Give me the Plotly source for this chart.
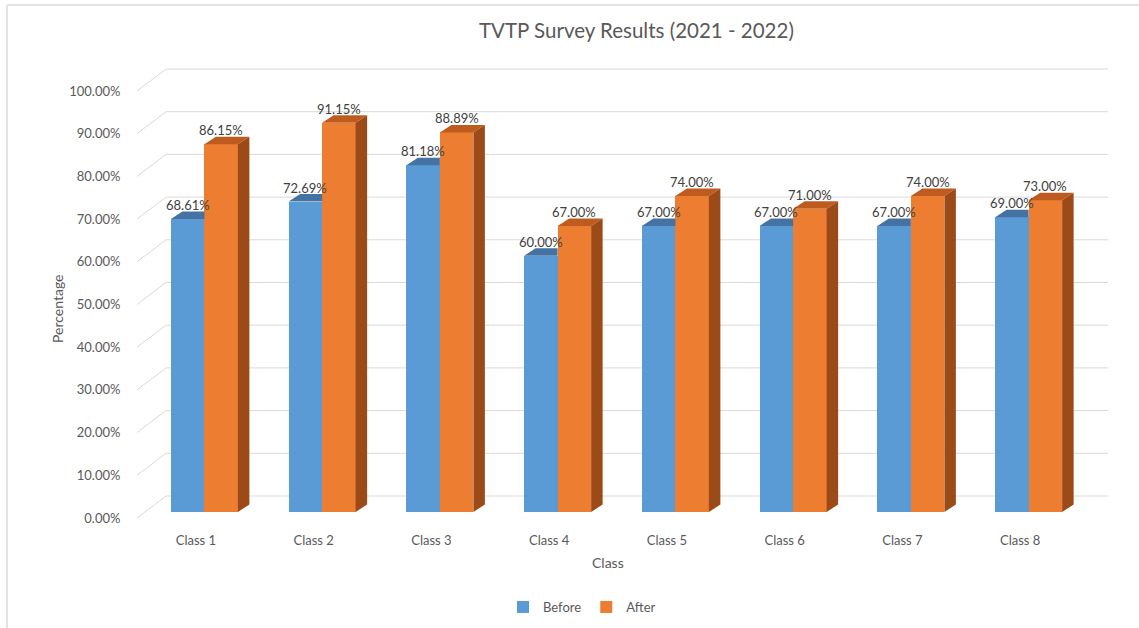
import plotly.graph_objects as go

# ---- data ----
categories = ["Class 1", "Class 2", "Class 3", "Class 4", "Class 5", "Class 6", "Class 7", "Class 8"]
before = [0.6861, 0.7269, 0.8118, 0.60, 0.67, 0.67, 0.67, 0.69]
after = [0.8615, 0.9115, 0.8889, 0.67, 0.74, 0.71, 0.74, 0.73]
y_ticks = [i / 10 for i in range(11)]

# ---- layout geometry (pixels -> data units) ----
W, H = 1139, 628
ML, MR, MT, MB = 137, 31, 62, 110
plot_w = W - ML - MR
plot_h = H - MT - MB
PX_PER_Y = 427.0               # pixels per 100%
DEPTH_PX = (29.0, 22.0)        # full floor depth offset (x, up)
X_MIN = -0.5
X_MAX = len(categories) - 0.5
PX_PER_X = plot_w / ((X_MAX - X_MIN) + DEPTH_PX[0] / 117.75)
depth_x = DEPTH_PX[0] / PX_PER_X
depth_y = DEPTH_PX[1] / PX_PER_Y
x_range = [X_MIN, X_MAX + depth_x]
y_range = [0, plot_h / PX_PER_Y]

bar_w = 33.5 / PX_PER_X
shift_x = 8.5 / PX_PER_X
base = 6.0 / PX_PER_Y
side_dx = 11.5 / PX_PER_X
side_dy = 7.5 / PX_PER_Y

BLUE, BLUE_TOP = "#5B9BD5", "#4472A3"
ORANGE, ORANGE_TOP, ORANGE_SIDE = "#ED7D31", "#BE5B1E", "#9C4A18"
TEXT = "#595959"
FONT = "Lato"

fig = go.Figure()

idx = list(range(len(categories)))
xb = [i + shift_x - bar_w / 2 for i in idx]
xa = [i + shift_x + bar_w / 2 for i in idx]

fig.add_trace(go.Bar(x=xb, y=before, base=base, width=bar_w, name="Before",
                     marker=dict(color=BLUE, line=dict(width=0)), hoverinfo="skip"))
fig.add_trace(go.Bar(x=xa, y=after, base=base, width=bar_w, name="After",
                     marker=dict(color=ORANGE, line=dict(width=0)), hoverinfo="skip"))


def poly(xs, ys, color):
    fig.add_trace(go.Scatter(x=xs + [xs[0]], y=ys + [ys[0]], mode="lines", fill="toself",
                             fillcolor=color, line=dict(width=0, color=color),
                             showlegend=False, hoverinfo="skip"))


# pseudo-3D faces
for i in idx:
    # blue top (clipped at orange front)
    x0, x1 = xb[i] - bar_w / 2, xb[i] + bar_w / 2
    t = base + before[i]
    poly([x0, x1, x1, x0 + side_dx], [t, t, t + side_dy, t + side_dy], BLUE_TOP)
    # orange top and side
    x0, x1 = xa[i] - bar_w / 2, xa[i] + bar_w / 2
    t = base + after[i]
    poly([x0, x1, x1 + side_dx, x0 + side_dx], [t, t, t + side_dy, t + side_dy], ORANGE_TOP)
    poly([x1, x1, x1 + side_dx, x1 + side_dx], [base, t, t + side_dy, base + side_dy], ORANGE_SIDE)

# data labels
annotations = []
for i in idx:
    annotations.append(dict(x=xb[i], y=base + before[i], text=f"{before[i]*100:.2f}%",
                            showarrow=False, yshift=14, xref="x", yref="y",
                            font=dict(family=FONT, size=13, color="#404040")))
    annotations.append(dict(x=xa[i], y=base + after[i], text=f"{after[i]*100:.2f}%",
                            showarrow=False, yshift=14, xref="x", yref="y",
                            font=dict(family=FONT, size=13, color="#404040")))

# gridlines on the back wall with the diagonal on the left side wall
shapes = []
for v in y_ticks:
    shapes.append(dict(type="path", xref="x", yref="y", layer="below",
                       path=f"M {X_MIN} {v} L {X_MIN + depth_x} {v + depth_y} L {x_range[1]} {v + depth_y}",
                       line=dict(color="#D9D9D9", width=1)))
# chart border
shapes.append(dict(type="line", xref="paper", yref="paper", x0=(7 - ML) / plot_w, x1=(W - ML) / plot_w,
                   y0=(H - MB - 5) / plot_h, y1=(H - MB - 5) / plot_h, line=dict(color="#E3E3E3", width=2)))
shapes.append(dict(type="line", xref="paper", yref="paper", x0=(7 - ML) / plot_w, x1=(7 - ML) / plot_w,
                   y0=(H - MB - 5) / plot_h, y1=-MB / plot_h, line=dict(color="#E3E3E3", width=2)))

# titles
annotations.append(dict(text="TVTP Survey Results (2021 - 2022)", xref="paper", yref="paper",
                        x=(636 - ML) / plot_w, y=(H - MB - 30) / plot_h, showarrow=False,
                        xanchor="center", yanchor="middle", font=dict(family=FONT, size=20.5, color=TEXT)))
annotations.append(dict(text="Percentage", xref="paper", yref="paper", textangle=-90,
                        x=(57 - ML) / plot_w, y=(H - MB - 309) / plot_h, showarrow=False,
                        xanchor="center", yanchor="middle", font=dict(family=FONT, size=14, color=TEXT)))
annotations.append(dict(text="Class", xref="paper", yref="paper",
                        x=(608 - ML) / plot_w, y=(H - MB - 562) / plot_h, showarrow=False,
                        xanchor="center", yanchor="middle", font=dict(family=FONT, size=14, color=TEXT)))

fig.update_layout(
    width=W, height=H,
    margin=dict(l=ML, r=MR, t=MT, b=MB, autoexpand=False),
    paper_bgcolor="white", plot_bgcolor="white",
    font=dict(family=FONT, size=13, color=TEXT),
    showlegend=True,
    legend=dict(orientation="h", xref="paper", yref="paper",
                x=(582 - ML) / plot_w, y=(H - MB - 607) / plot_h,
                xanchor="center", yanchor="middle",
                font=dict(family=FONT, size=13, color=TEXT), itemwidth=30, traceorder="normal"),
    xaxis=dict(range=x_range, tickmode="array", tickvals=idx, ticktext=categories,
               showgrid=False, zeroline=False, showline=False,
               ticks="outside", ticklen=10, tickcolor="rgba(0,0,0,0)",
               tickfont=dict(family=FONT, size=13, color=TEXT), fixedrange=True),
    yaxis=dict(range=y_range, tickmode="array", tickvals=y_ticks,
               ticktext=[f"{v*100:.2f}%" for v in y_ticks],
               showgrid=False, zeroline=False, showline=False,
               ticks="outside", ticklen=13, tickcolor="rgba(0,0,0,0)",
               tickfont=dict(family=FONT, size=13, color=TEXT), fixedrange=True),
    shapes=shapes, annotations=annotations, bargap=0,
)

fig.write_html("out.html", config={"displayModeBar": False},
               post_script="document.body.style.margin='0px';")
